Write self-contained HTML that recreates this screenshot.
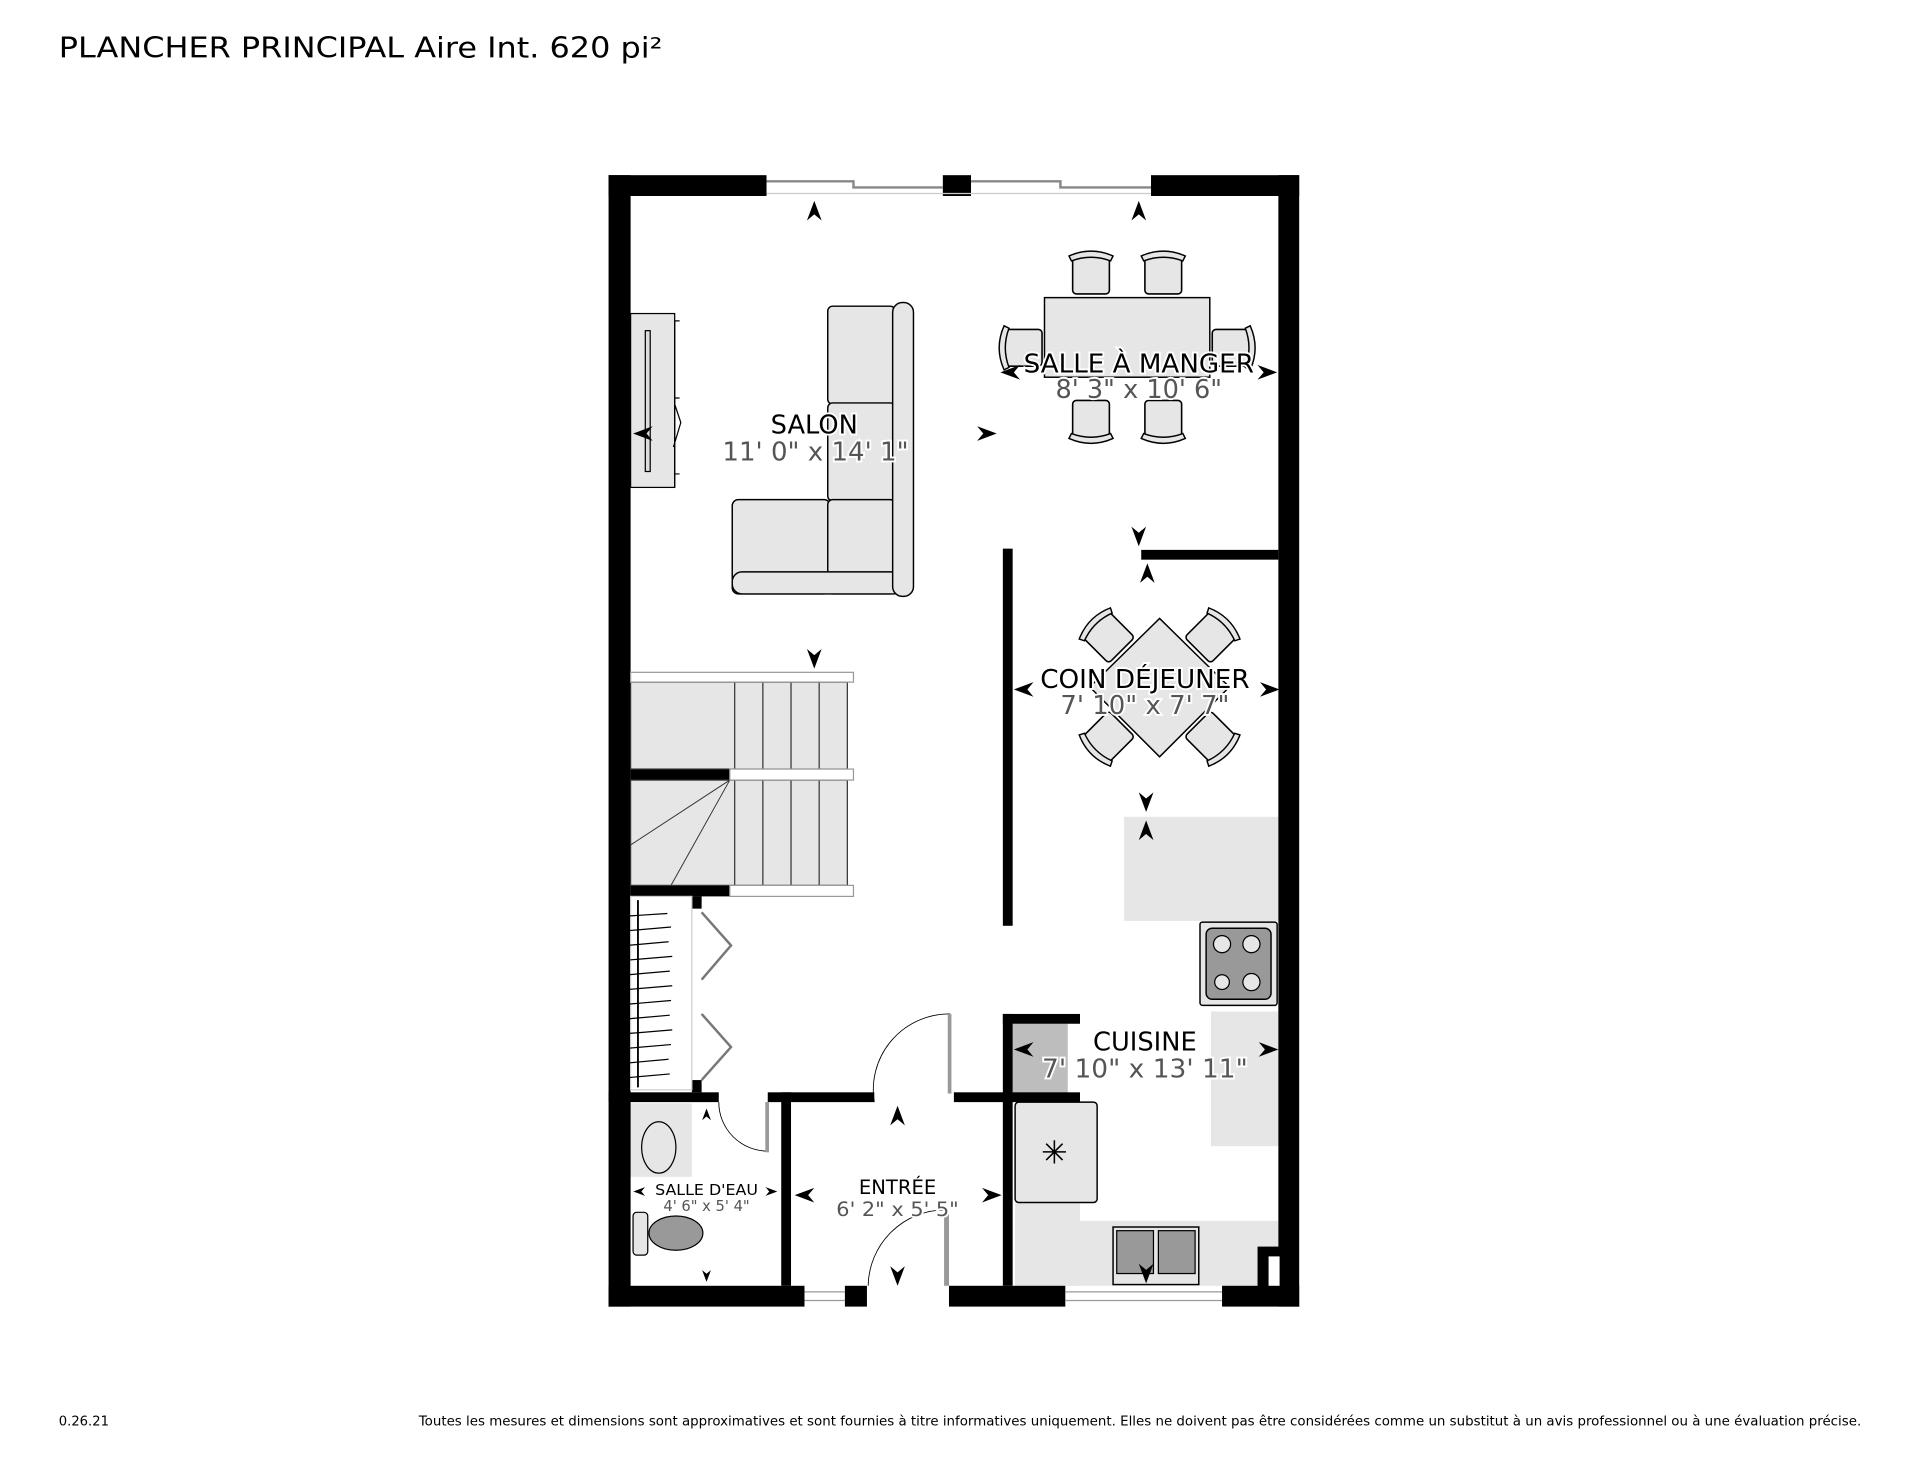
<!DOCTYPE html>
<html><head><meta charset="utf-8"><style>
html,body{margin:0;padding:0;background:#fff;width:1920px;height:1483px;overflow:hidden}
svg{display:block}
text{font-family:"DejaVu Sans","Liberation Sans",sans-serif}
</style></head><body>
<svg width="1920" height="1483" viewBox="0 0 1568 1211" xmlns="http://www.w3.org/2000/svg">
<defs>
<path id="a" d="M0,-8 L6,8 L0,3 L-6,8 Z" fill="#000"/>
<g id="ch"><rect x="-15" y="-16" width="30" height="33" rx="3" fill="#e6e6e6" stroke="#000" stroke-width="1.3"/><path d="M-18,-14 Q0,-22 18,-14 L16,-10 Q0,-16 -16,-10 Z" fill="#e6e6e6" stroke="#000" stroke-width="1.2"/></g>
</defs>
<rect width="1568" height="1211" fill="#fff"/>
<text x="48" y="47" font-size="23" textLength="493" lengthAdjust="spacingAndGlyphs">PLANCHER PRINCIPAL Aire Int. 620 pi²</text>
<text x="48" y="1164" font-size="10.5" textLength="41" lengthAdjust="spacingAndGlyphs">0.26.21</text>
<text x="1520" y="1164" font-size="10.5" text-anchor="end" textLength="1178" lengthAdjust="spacingAndGlyphs">Toutes les mesures et dimensions sont approximatives et sont fournies à titre informatives uniquement. Elles ne doivent pas être considérées comme un substitut à un avis professionnel ou à une évaluation précise.</text>

<rect x="918" y="667" width="126" height="85" fill="#e6e6e6"/>
<rect x="989" y="826" width="55" height="110" fill="#e6e6e6"/>
<rect x="829" y="982" width="53" height="68" fill="#e6e6e6"/>
<rect x="829" y="997" width="215" height="53" fill="#e6e6e6"/>
<rect x="827" y="836" width="45" height="57" fill="#bdbdbd"/>
<rect x="515" y="901" width="50" height="60" fill="#e6e6e6"/>

<g fill="#000">
<rect x="497" y="143" width="18" height="924"/>
<rect x="1044" y="143" width="17" height="924"/>
<rect x="497" y="143" width="129" height="17"/>
<rect x="770" y="143" width="23" height="17"/>
<rect x="940" y="143" width="121" height="17"/>
<rect x="497" y="1050" width="160" height="17"/>
<rect x="690" y="1050" width="18" height="17"/>
<rect x="775" y="1050" width="95" height="17"/>
<rect x="998" y="1050" width="63" height="17"/>
<rect x="819" y="448" width="8" height="308"/>
<rect x="932" y="449" width="112" height="8"/>
<rect x="515" y="628" width="81" height="9"/>
<rect x="515" y="723" width="81" height="9"/>
<rect x="565" y="732" width="8" height="10"/>
<rect x="565" y="882" width="8" height="10"/>
<rect x="497" y="892" width="90" height="8"/>
<rect x="627" y="892" width="87" height="8"/>
<rect x="779" y="892" width="103" height="8"/>
<rect x="638" y="892" width="8" height="158"/>
<rect x="819" y="828" width="8" height="222"/>
<rect x="819" y="828" width="63" height="8"/>
<rect x="1027" y="1018" width="23" height="37"/>
</g>
<rect x="1036" y="1026" width="9" height="24" fill="#fff"/>
<g stroke="#888" stroke-width="2" fill="none">
<path d="M626,148 H697 V153 H770"/><path d="M793,148 H866 V153 H940"/>
<path d="M626,158 H940" stroke="#ccc" stroke-width="1"/>
<path d="M657,1055 H690 M657,1062 H690 M870,1055 H998 M870,1062 H998" stroke="#999" stroke-width="1"/>
</g>

<g stroke="#333" stroke-width="1">
<rect x="515" y="557" width="177" height="71" fill="#e6e6e6"/>
<rect x="515" y="637" width="177" height="86" fill="#e6e6e6"/>
<path d="M600,557 V628 M623,557 V628 M646,557 V628 M669,557 V628 M600,637 V723 M623,637 V723 M646,637 V723 M669,637 V723"/>
<path d="M596,637 L515,690 M596,637 L548,723" stroke-width="0.8"/>
</g>
<g fill="#fff" stroke="#999" stroke-width="1">
<rect x="515" y="549" width="182" height="8"/>
<rect x="596" y="628" width="101" height="9"/>
<rect x="596" y="723" width="101" height="9"/>
</g>

<rect x="515" y="732" width="50" height="158" fill="#fff" stroke="#ccc"/>
<path d="M521,735 V888" stroke="#000" stroke-width="1.5"/>
<g stroke="#000" stroke-width="1">
<path d="M513,748 L545,746 M513,760 L548,757 M513,772 L546,769 M513,784 L549,781 M513,796 L547,793 M513,808 L549,805 M513,820 L548,817 M513,832 L547,829 M513,844 L549,841 M513,856 L548,853 M513,868 L546,865 M513,880 L547,877"/>
</g>
<path d="M573,745 L597,772 L573,800 M573,828 L597,855 L573,882" stroke="#777" stroke-width="2" fill="none"/>

<g stroke="#000" stroke-width="0.7" fill="none">
<path d="M587,900 A40,40 0 0 0 627,940"/>
<path d="M714,900 A62,62 0 0 1 776,828"/>
<path d="M709,1050 A63,63 0 0 1 772,988"/>
</g>
<g fill="#999"><rect x="625" y="900" width="3" height="41"/><rect x="774" y="828" width="3" height="65"/><rect x="771" y="990" width="4" height="60"/></g>

<rect x="515" y="256" width="36" height="142" fill="#e6e6e6" stroke="#000"/>
<path d="M551,262 H555 M551,325 H555 M551,387 H555 M551,262 V398 M551,330 L556,345 L550,365" stroke="#000" fill="none"/>
<rect x="527" y="270" width="4" height="115" fill="#ddd" stroke="#000"/>
<g fill="#e6e6e6" stroke="#000" stroke-width="1.2">
<rect x="676" y="250" width="55" height="80" rx="4"/>
<rect x="676" y="329" width="55" height="80" rx="4"/>
<rect x="598" y="408" width="80" height="77" rx="5"/>
<rect x="676" y="408" width="55" height="77" rx="4"/>
<rect x="598" y="467" width="140" height="18" rx="8"/>
<rect x="729" y="247" width="17" height="240" rx="8"/>
<rect x="853" y="243" width="135" height="65"/>
</g>
<use href="#ch" transform="translate(891,223)"/>
<use href="#ch" transform="translate(950,223)"/>
<use href="#ch" transform="translate(891,344) rotate(180)"/>
<use href="#ch" transform="translate(950,344) rotate(180)"/>
<use href="#ch" transform="translate(834,284) rotate(-90)"/>
<use href="#ch" transform="translate(1007,284) rotate(90)"/>
<g fill="#e6e6e6" stroke="#000" stroke-width="1.2">
<path d="M947,505 L1004,561 L947,618 L890,561 Z"/>
</g>
<use href="#ch" transform="translate(904,519) rotate(-45)"/>
<use href="#ch" transform="translate(990,519) rotate(45)"/>
<use href="#ch" transform="translate(904,603) rotate(-135)"/>
<use href="#ch" transform="translate(990,603) rotate(135)"/>
<g fill="#e6e6e6" stroke="#000" stroke-width="1.2">
<rect x="980" y="753" width="63" height="68" rx="2"/>
<rect x="985" y="758" width="53" height="58" rx="5" fill="#999"/>
<rect x="829" y="900" width="67" height="82" rx="3"/>
<rect x="909" y="1002" width="70" height="47"/>
</g>
<g fill="#e6e6e6" stroke="#000"><circle cx="998" cy="771" r="7"/><circle cx="1022" cy="771" r="7"/><circle cx="998" cy="802" r="6"/><circle cx="1022" cy="802" r="7"/>
<rect x="912" y="1005" width="30" height="35" fill="#999"/><rect x="946" y="1005" width="30" height="35" fill="#999"/>
<ellipse cx="538" cy="937" rx="14" ry="21"/><rect x="517" y="990" width="12" height="35" rx="3"/><ellipse cx="552" cy="1007" rx="22" ry="14" fill="#999"/></g>
<text x="861" y="950" font-size="26" text-anchor="middle">✳</text>

<use href="#a" x="665" y="172"/><use href="#a" x="930" y="172"/>
<use href="#a" transform="translate(806,354) rotate(90)"/>
<use href="#a" transform="translate(525,354) rotate(-90)"/>
<use href="#a" transform="translate(665,538) rotate(180)"/>
<use href="#a" transform="translate(825,304) rotate(-90)"/><use href="#a" transform="translate(1035,304) rotate(90)"/>
<use href="#a" transform="translate(930,438) rotate(180)"/><use href="#a" x="937" y="468"/>
<use href="#a" transform="translate(836,563) rotate(-90)"/><use href="#a" transform="translate(1037,563) rotate(90)"/>
<use href="#a" transform="translate(936,655) rotate(180)"/><use href="#a" x="936" y="678"/>
<use href="#a" transform="translate(836,857) rotate(-90)"/><use href="#a" transform="translate(1036,857) rotate(90)"/>
<use href="#a" x="733" y="911"/><use href="#a" transform="translate(657,976) rotate(-90)"/><use href="#a" transform="translate(810,976) rotate(90)"/><use href="#a" transform="translate(733,1042) rotate(180)"/>
<use href="#a" transform="translate(577,910) scale(0.6)"/><use href="#a" transform="translate(522,973) rotate(-90) scale(0.6)"/><use href="#a" transform="translate(630,973) rotate(90) scale(0.6)"/><use href="#a" transform="translate(577,1042) rotate(180) scale(0.6)"/>
<use href="#a" transform="translate(936,1040) rotate(180)"/>

<g text-anchor="middle" stroke="#fff" stroke-width="3" paint-order="stroke">
<text x="665" y="354" font-size="21">SALON</text>
<text x="666" y="376" font-size="21" fill="#555" textLength="152" lengthAdjust="spacingAndGlyphs">11' 0" x 14' 1"</text>
<text x="930" y="304" font-size="21" textLength="188" lengthAdjust="spacingAndGlyphs">SALLE À MANGER</text>
<text x="930" y="325" font-size="21" fill="#555" textLength="136" lengthAdjust="spacingAndGlyphs">8' 3" x 10' 6"</text>
<text x="935" y="562" font-size="21" textLength="171" lengthAdjust="spacingAndGlyphs">COIN DÉJEUNER</text>
<text x="935" y="583" font-size="21" fill="#555" textLength="138" lengthAdjust="spacingAndGlyphs">7' 10" x 7' 7"</text>
<text x="935" y="858" font-size="21">CUISINE</text>
<text x="935" y="880" font-size="21" fill="#555" textLength="168" lengthAdjust="spacingAndGlyphs">7' 10" x 13' 11"</text>
<text x="733" y="975" font-size="16">ENTRÉE</text>
<text x="733" y="993" font-size="16" fill="#555" textLength="100" lengthAdjust="spacingAndGlyphs">6' 2" x 5' 5"</text>
<text x="577" y="976" font-size="12" textLength="84" lengthAdjust="spacingAndGlyphs">SALLE D'EAU</text>
<text x="577" y="989" font-size="12" fill="#555">4' 6" x 5' 4"</text>
</g>
</svg>
</body></html>
